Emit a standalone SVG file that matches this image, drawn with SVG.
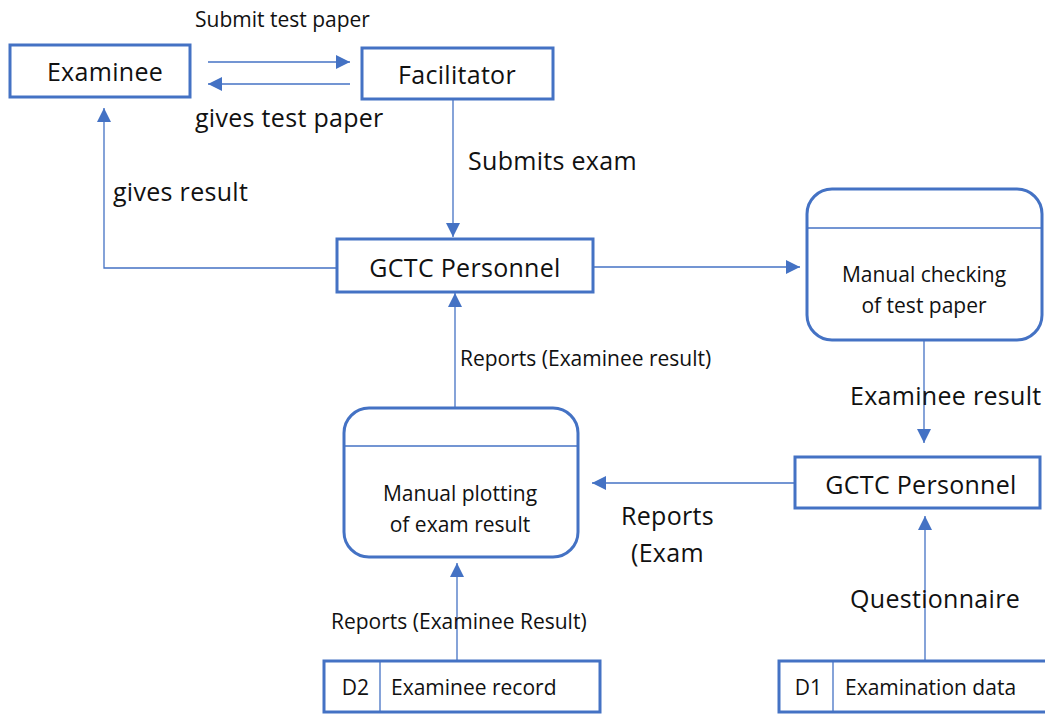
<svg xmlns="http://www.w3.org/2000/svg" width="1045" height="715" viewBox="0 0 1045 715">
  <defs>
    <marker id="arrow" viewBox="0 0 10 10" refX="10" refY="5" markerWidth="14" markerHeight="14" markerUnits="userSpaceOnUse" orient="auto">
      <path d="M0,0 L10,5 L0,10 z" fill="#4472C4"/>
    </marker>
    <style>
      .box { fill: #fff; stroke: #4472C4; stroke-width: 3; }
      .sep { stroke: #4472C4; stroke-width: 1.3; fill: none; }
      .flow { stroke: #4472C4; stroke-width: 1.3; fill: none; marker-end: url(#arrow); }
      text { font-family: "Open Sans", "Noto Sans", sans-serif; fill: #111; }
      .big { font-size: 25px; letter-spacing: 0.3px; }
      .small { font-size: 21px; }
    </style>
  </defs>

  <rect width="1045" height="715" fill="#fff"/>

  <!-- data flows -->
  <g id="connectors">
    <path class="flow" d="M208,62 H350"/>
    <path class="flow" d="M350,84 H208"/>
    <path class="flow" d="M453,99 V237"/>
    <path class="flow" d="M337,268 H104 V108"/>
    <path class="flow" d="M593,267 H800"/>
    <path class="flow" d="M924,340 V443"/>
    <path class="flow" d="M795,483 H592"/>
    <path class="flow" d="M455,408 V293"/>
    <path class="flow" d="M457,660 V563"/>
    <path class="flow" d="M925,661 V516"/>
  </g>

  <!-- flow labels -->
  <g id="labels">
    <text class="small" x="195" y="27">Submit test paper</text>
    <text class="big" x="195" y="127">gives test paper</text>
    <text class="big" x="468" y="170">Submits exam</text>
    <text class="big" x="113" y="201">gives result</text>
    <text class="big" x="850" y="405">Examinee result</text>
    <text class="small" x="460" y="366">Reports (Examinee result)</text>
    <text class="big" x="621" y="525">Reports</text>
    <text class="big" x="631" y="562">(Exam</text>
    <text class="small" x="331" y="629">Reports (Examinee Result)</text>
    <text class="big" x="850" y="608">Questionnaire</text>
  </g>

  <g id="examinee">
    <rect class="box" x="10" y="45" width="180" height="52"/>
    <text class="big" x="105" y="81" text-anchor="middle">Examinee</text>
  </g>

  <g id="facilitator">
    <rect class="box" x="362" y="48" width="191" height="51"/>
    <text class="big" x="457" y="84" text-anchor="middle">Facilitator</text>
  </g>

  <g id="gctc-personnel-1">
    <rect class="box" x="337" y="239" width="256" height="53"/>
    <text class="big" x="465" y="277" text-anchor="middle">GCTC Personnel</text>
  </g>

  <g id="manual-checking">
    <rect class="box" x="807" y="189" width="235" height="151" rx="25" ry="25"/>
    <line class="sep" x1="808" y1="228" x2="1041" y2="228"/>
    <text class="small" x="924" y="282" text-anchor="middle">Manual checking</text>
    <text class="small" x="924" y="313" text-anchor="middle">of test paper</text>
  </g>

  <g id="gctc-personnel-2">
    <rect class="box" x="795" y="457" width="245" height="51"/>
    <text class="big" x="921" y="494" text-anchor="middle">GCTC Personnel</text>
  </g>

  <g id="manual-plotting">
    <rect class="box" x="344" y="408" width="234" height="149" rx="25" ry="25"/>
    <line class="sep" x1="345" y1="446" x2="577" y2="446"/>
    <text class="small" x="460" y="501" text-anchor="middle">Manual plotting</text>
    <text class="small" x="460" y="532" text-anchor="middle">of exam result</text>
  </g>

  <g id="d2-examinee-record">
    <rect class="box" x="324" y="661" width="276" height="51"/>
    <line class="sep" x1="380" y1="661" x2="380" y2="712"/>
    <text class="small" x="369" y="695" text-anchor="end">D2</text>
    <text class="small" x="391" y="695">Examinee record</text>
  </g>

  <g id="d1-examination-data">
    <rect class="box" x="779" y="661" width="270" height="51"/>
    <line class="sep" x1="833" y1="661" x2="833" y2="712"/>
    <text class="small" x="822" y="695" text-anchor="end">D1</text>
    <text class="small" x="845" y="695">Examination data</text>
  </g>
</svg>
